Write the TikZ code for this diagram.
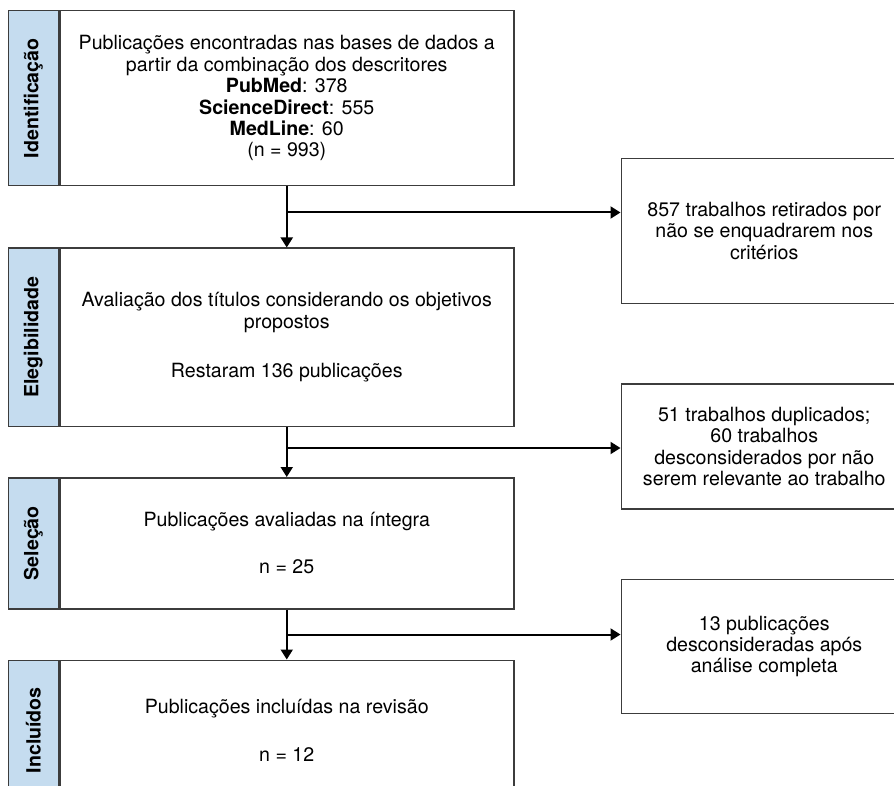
\documentclass[tikz,border=0pt]{standalone}
\usepackage{fontspec}
\setmainfont{TeX Gyre Heros}
\usetikzlibrary{positioning,arrows.meta,calc}
\definecolor{StripBlue}{HTML}{C5DCEF}
\definecolor{EdgeGray}{HTML}{3C3C3C}

\begin{document}
\begin{tikzpicture}[
      box/.style={draw=EdgeGray, rectangle, line width=0.75pt, minimum width=227pt,
                  align=center, inner sep=2pt, font=\fontsize{9.8}{10.7}\selectfont},
      strip/.style={draw=EdgeGray, rectangle, line width=0.75pt, minimum width=25pt,
                    inner sep=0pt, fill=StripBlue, font=\fontsize{9.8}{10.7}\selectfont\bfseries},
      side/.style={draw=EdgeGray, rectangle, line width=0.75pt, minimum width=143pt,
                   align=center, inner sep=2pt, anchor=west, font=\fontsize{9.8}{10.7}\selectfont},
      ar/.style={-{Triangle[length=5pt,width=6pt]}, line width=1pt},
      node distance=25pt,
    ]
      \useasboundingbox (0,0) rectangle (447pt,-393pt);
      \clip (0,0) rectangle (447pt,-393pt);
      % main column
      \node[box, minimum height=87.5pt, anchor=north west] (b1) at (29.5pt,-5pt)
            {Publicações encontradas nas bases de dados a\\
             partir da combinação dos descritores\\
             \textbf{PubMed}: 378\\ \textbf{ScienceDirect}: 555\\
             \textbf{MedLine}: 60\\ (n = 993)};
      \node[box, minimum height=89pt, below=30.5pt of b1] (b2)
            {Avaliação dos títulos considerando os objetivos\\ propostos\\[14pt]
             Restaram 136 publicações};
      \node[box, minimum height=65.5pt, below=of b2] (b3)
            {Publicações avaliadas na íntegra\\[13pt] n = 25};
      \node[box, minimum height=70pt, below=of b3] (b4)
            {Publicações incluídas na revisão\\[13pt] n = 12};
      % phase labels
      \node[strip, minimum height=87.5pt, left=0pt of b1] (s1) {\rotatebox{90}{Identificação}};
      \node[strip, minimum height=89pt, left=0pt of b2] (s2) {\rotatebox{90}{Elegibilidade}};
      \node[strip, minimum height=65.5pt, left=0pt of b3] (s3) {\rotatebox{90}{Seleção}};
      \node[strip, minimum height=70pt, left=0pt of b4] (s4) {\rotatebox{90}{Incluídos}};
      % excluded
      \node[side, minimum height=72.5pt, right=53pt of b1.south east, yshift=-22.25pt] (r1)
            {857 trabalhos retirados por\\ não se enquadrarem nos\\ critérios};
      \node[side, minimum height=62.5pt, right=53pt of b2.south east, yshift=-9.75pt] (r2)
            {51 trabalhos duplicados;\\ 60 trabalhos\\ desconsiderados por não\\
             serem relevante ao trabalho};
      \node[side, minimum height=67pt, right=53pt of b3.south east, yshift=-18.5pt] (r3)
            {13 publicações\\ desconsideradas após\\ análise completa};
      \coordinate[below=13pt of b1.south] (j1);
      \coordinate[below=10.5pt of b2.south] (j2);
      \coordinate[below=12.5pt of b3.south] (j3);
      \draw[ar] (b1) -- (b2); \draw[ar] (b2) -- (b3); \draw[ar] (b3) -- (b4);
      \draw[ar] (j1) -- (j1 -| r1.west);
      \draw[ar] (j2) -- (j2 -| r2.west);
      \draw[ar] (j3) -- (j3 -| r3.west);
    \end{tikzpicture}
\end{document}
